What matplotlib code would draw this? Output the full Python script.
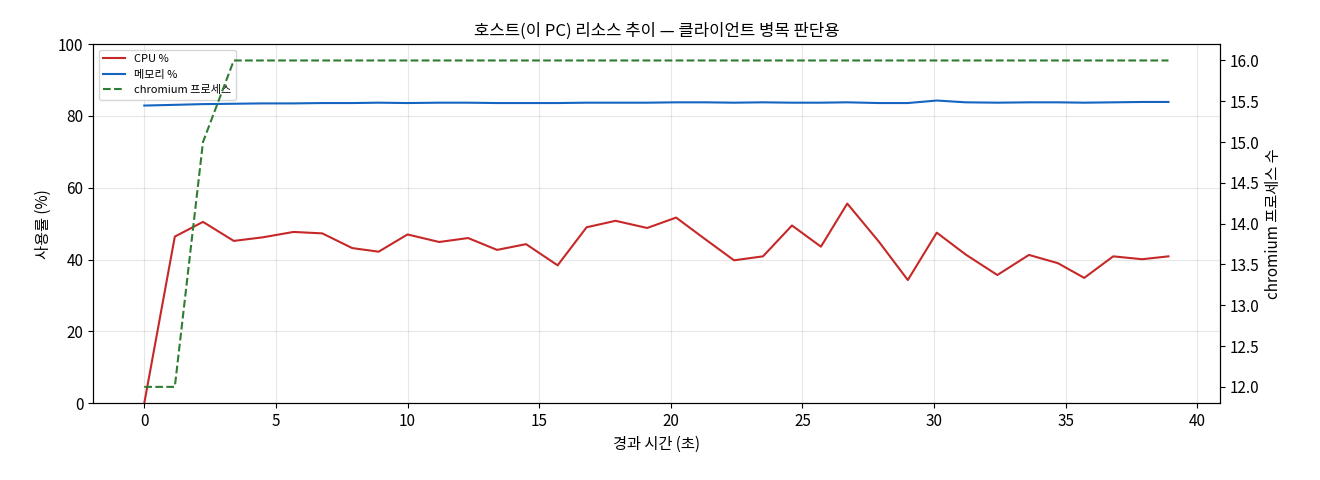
import matplotlib
matplotlib.use('Agg')
import matplotlib.pyplot as plt

plt.rcParams['font.family'] = ['Noto Sans CJK KR', 'DejaVu Sans']

# 경과 시간 (초)
elapsed = [0.0, 1.16, 2.23, 3.4, 4.5, 5.67, 6.76, 7.9, 8.9, 10.0, 11.2, 12.3,
           13.4, 14.5, 15.7, 16.8, 17.9, 19.1, 20.2, 21.3, 22.4, 23.5, 24.6,
           25.7, 26.7, 27.9, 29.0, 30.1, 31.2, 32.4, 33.6, 34.7, 35.7, 36.8,
           37.9, 38.9]
cpu = [0.0, 46.4, 50.5, 45.2, 46.2, 47.7, 47.3, 43.2, 42.2, 47.0, 44.9, 46.0,
       42.7, 44.3, 38.4, 49.0, 50.8, 48.8, 51.7, 45.7, 39.8, 40.9, 49.5,
       43.6, 55.6, 45.0, 34.3, 47.5, 41.4, 35.7, 41.3, 39.0, 34.9, 40.9,
       40.1, 40.9]
mem = [82.9, 83.1, 83.3, 83.4, 83.5, 83.5, 83.6, 83.6, 83.7, 83.6, 83.7, 83.7,
       83.6, 83.6, 83.6, 83.7, 83.7, 83.7, 83.8, 83.8, 83.7, 83.8, 83.7,
       83.7, 83.8, 83.6, 83.6, 84.3, 83.8, 83.7, 83.8, 83.8, 83.7, 83.8,
       83.9, 83.9]
procs = [12, 12, 15, 16, 16, 16, 16, 16, 16, 16, 16, 16, 16, 16, 16, 16, 16,
         16, 16, 16, 16, 16, 16, 16, 16, 16, 16, 16, 16, 16, 16, 16, 16, 16,
         16, 16]

fig, ax = plt.subplots(figsize=(13.2, 4.8), dpi=100)
l1, = ax.plot(elapsed, cpu, color='#c62828', lw=1.5, label='CPU %')
l2, = ax.plot(elapsed, mem, color='#1565c0', lw=1.5, label='메모리 %')
ax.set_ylim(0, 100)
ax.set_xlabel('경과 시간 (초)', fontsize=11)
ax.set_ylabel('사용률 (%)', fontsize=11)
ax.tick_params(labelsize=11)
ax.grid(True, alpha=0.3)

ax2 = ax.twinx()
l3, = ax2.plot(elapsed, procs, color='#2e7d32', lw=1.5, ls='--', label='chromium 프로세스')
ax2.set_ylim(11.8, 16.2)
ax2.set_ylabel('chromium 프로세스 수', fontsize=11)
ax2.tick_params(labelsize=11)

ax.legend(handles=[l1, l2, l3], loc='upper left', fontsize=8)
ax.set_title('호스트(이 PC) 리소스 추이 — 클라이언트 병목 판단용', fontsize=12)

fig.subplots_adjust(left=0.0705, right=0.924, top=0.908, bottom=0.16)
plt.savefig('out.png')
